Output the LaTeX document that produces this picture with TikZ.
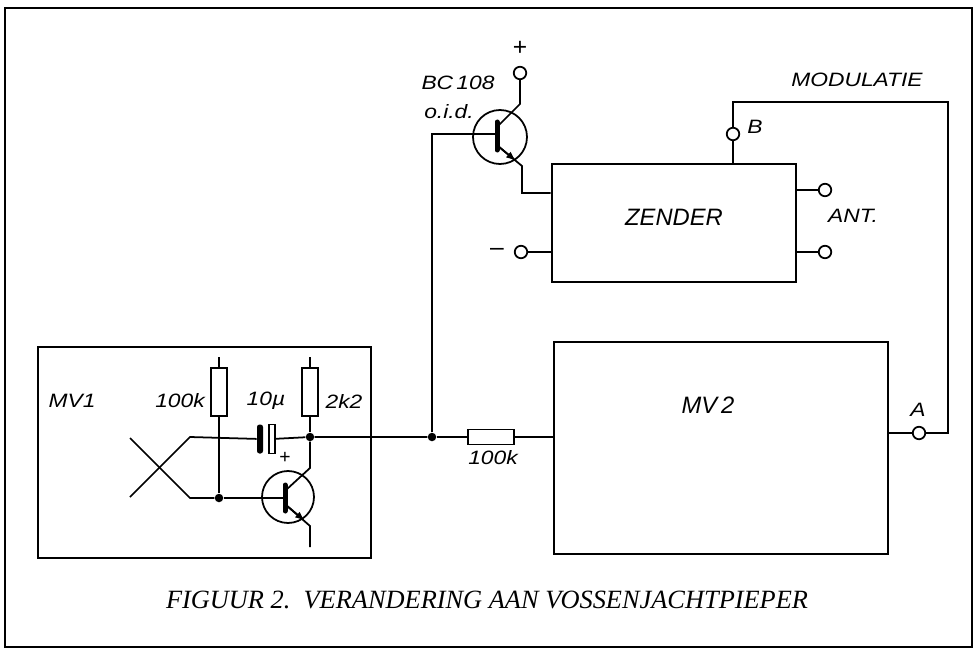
\documentclass[tikz,border=0pt]{standalone}
\usepackage{fontspec}
\setmainfont{Liberation Serif}
\newfontfamily\letterfont[FakeStretch=1.18]{Liberation Sans}
\newfontfamily\blokfont{Liberation Sans}
\usetikzlibrary{arrows.meta,calc,positioning}

\tikzset{
  wire/.style={line width=1pt},
  blok/.style={draw, line width=1.6pt, inner sep=0pt},
  klem/.style={circle, draw, fill=white, line width=1pt, inner sep=0pt, minimum size=2.5mm},
  knoop/.style={circle, fill, inner sep=0pt, minimum size=1.7mm},
  staand/.style={draw, fill=white, line width=1pt, inner sep=0pt, minimum width=3.2mm, minimum height=9.6mm},
  liggend/.style={draw, fill=white, line width=1pt, inner sep=0pt, minimum width=9.2mm, minimum height=3mm},
  basis/.style={line width=1mm, line cap=round},
  pijl/.style={wire, -{Latex[length=2mm,width=1.5mm]}},
  lbl/.style={font=\letterfont\itshape\fontsize{11}{13}\selectfont, inner sep=0pt},
  grootlbl/.style={font=\blokfont\itshape\fontsize{13.5}{15}\selectfont, inner sep=0pt},
}

\begin{document}
\begin{tikzpicture}[x=0.2mm,y=-0.2mm]
\useasboundingbox (0,0) rectangle (974,649);
\draw[line width=1.2pt] (5,8) rectangle (972,647);

\node[blok, minimum width=48.8mm, minimum height=23.6mm] (zender) at (674,223) {};
\node[grootlbl] (zendertxt) at (674,217) {ZENDER};
\node[blok, minimum width=66.8mm, minimum height=42.4mm] (mv2) at (721,448) {};
\node[grootlbl] (mv2txt) at (708,405) {MV\,2};
\node[blok, minimum width=66.6mm, minimum height=42.2mm] (mv1) at (204.5,452.5) {};
\node[lbl] (mv1txt) at (72,401) {MV1};

\node[klem] (plus) at (520,73) {};
\node[lbl, font=\blokfont\fontsize{14}{16}\selectfont] (plustxt) at (520,48) {+};
\node[klem] (min) at (521,252) {};
\node[lbl, font=\blokfont\fontsize{14}{16}\selectfont] (mintxt) at (497,252) {–};
\node[klem] (b) at (733,134) {};
\node[lbl] (btxt) at (755,127) {B};
\node[klem] (ant1) at (825,190) {};
\node[klem] (ant2) at (825,252) {};
\node[lbl] (anttxt) at (853,216) {ANT.};
\node[klem] (a) at (919,433) {};
\node[lbl] (atxt) at (918,410) {A};
\node[lbl] (modtxt) at (857,80) {MODULATIE};
\coordinate (modl) at (733,102);
\coordinate (modr) at (948,102);

\draw[wire] (b) -- (b |- zender.north);
\draw[wire] (b) -- (modl) -- (modr) |- (a);
\draw[wire] (a) -- (a -| mv2.east);
\draw[wire] (ant1) -- (ant1 -| zender.east);
\draw[wire] (ant2) -- (ant2 -| zender.east);
\draw[wire] (min) -- (min -| zender.west);

% BC 108
\draw[wire] (500,137) circle [radius=27];
\draw[basis] (497,122) -- (497,150);
\node[lbl] (bctxt) at (458,83) {BC\,108};
\node[lbl] (oidtxt) at (449,112) {o.i.d.};
\coordinate (t1e) at (522,166);
\draw[wire] (plus) -- (520,104) -- (498,126);
\draw[wire] (498,146) -- (t1e) -- (522,193) -- (zender.west |- 0,193);
\draw[pijl] (498,146) -- (516,161);

% MV1
\node[knoop] (knoopb) at (219,498) {};
\node[knoop] (knoopc) at (310,437) {};
\node[knoop] (knoop1) at (432,437) {};
\node[staand] (r1) at (219,392) {};
\node[staand] (r2) at (310,392) {};
\node[lbl] (r1txt) at (180,401) {100k};
\node[lbl] (r2txt) at (344,401) {2k2};
\draw[wire] (219,357) -- (r1.north);
\draw[wire] (310,357) -- (r2.north);
\draw[wire] (r1.south) -- (knoopb);
\draw[wire] (r2.south) -- (knoopc);

\node[fill, rounded corners=0.5mm, minimum width=1.2mm, minimum height=5.8mm, inner sep=0pt] (cmin) at (260,439) {};
\node[draw, wire, minimum width=1.1mm, minimum height=5.8mm, inner sep=0pt] (cplus) at (272,439) {};
\node[lbl] (ctxt) at (266,401) {10µ};
\node[lbl, font=\blokfont\fontsize{11}{12}\selectfont] (cplustxt) at (285,458) {+};
\coordinate (kruis1) at (190,437);
\coordinate (kruis2) at (190,498);
\draw[wire] (cmin) -- (kruis1) -- (130,497);
\draw[wire] (knoopb) -- (kruis2) -- (130,438);
\draw[wire] (cplus) -- (knoopc) -- (knoop1);

\draw[wire] (288,497) circle [radius=26];
\draw[basis] (285,485) -- (285,511);
\draw[wire] (knoopb) -- (285,498);
\draw[wire] (286,490) -- (310,468) -- (knoopc);
\draw[wire] (286,505) -- (310,526) -- (310,547);
\draw[pijl] (286,505) -- (305,521);

% 100k naar MV2
\node[liggend] (r3) at (491,437) {};
\node[lbl] (r3txt) at (493,458) {100k};
\draw[wire] (knoop1) -- (r3.west);
\draw[wire] (r3.east) -- (r3.east -| mv2.west);
\draw[wire] (knoop1) |- (497,134);

\node[font=\itshape\fontsize{15}{17}\selectfont, inner sep=0pt] (titel) at (487,600) {FIGUUR 2.\ \ VERANDERING AAN VOSSENJACHTPIEPER};
\end{tikzpicture}
\end{document}
